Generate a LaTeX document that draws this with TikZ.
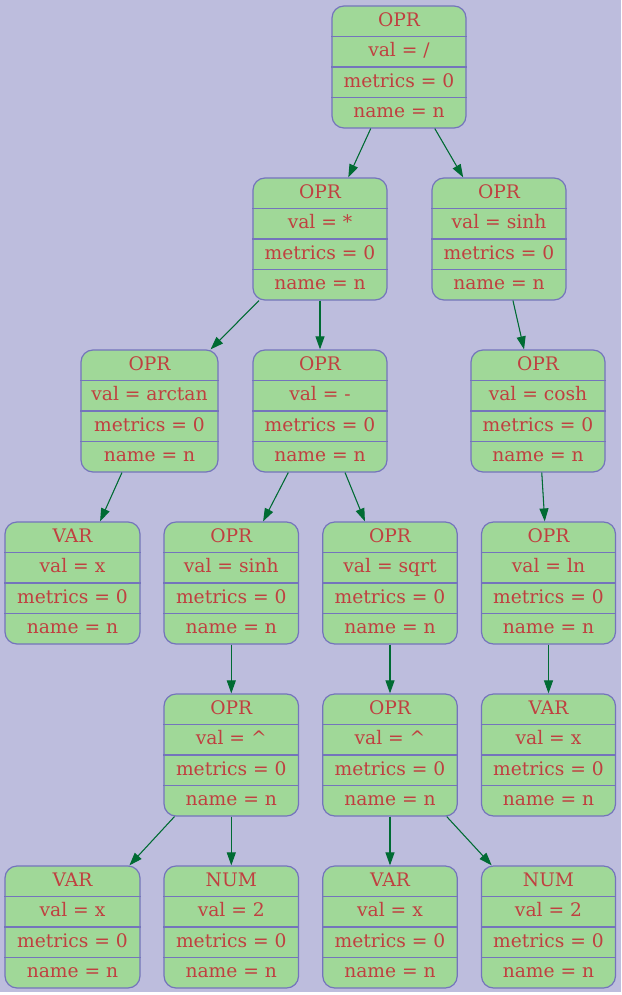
\documentclass[tikz,border=0pt]{standalone}
\usepackage{fontspec}
\setmainfont{DejaVu Serif}
\usetikzlibrary{arrows.meta}
\definecolor{bgc}{HTML}{BDBDDD}
\definecolor{fillc}{HTML}{A0D898}
\definecolor{linec}{HTML}{7474BC}
\definecolor{txtc}{HTML}{C04040}
\definecolor{edgec}{HTML}{006B33}
\tikzset{
  rec/.style={draw=linec, fill=fillc, line width=0.9pt, rounded corners=9pt,
    minimum height=91.5pt, inner sep=0pt, rectangle},
  divline/.style={draw=linec, line width=0.9pt},
  txt/.style={text=txtc, anchor=base, inner sep=0pt, font=\fontsize{14pt}{16pt}\selectfont},
  edge/.style={draw=edgec, line width=0.8pt, -{Triangle[length=9.75pt,width=6.75pt]}, fill=edgec}
}
\newcommand\recnode[8]{%
  \node[rec, minimum width=#4*0.75pt] (#1) at (#2,#3) {};
  \draw[divline] ([yshift=22.875pt]#1.west) -- ([yshift=22.875pt]#1.east);
  \draw[divline] (#1.west) -- (#1.east);
  \draw[divline] ([yshift=-22.875pt]#1.west) -- ([yshift=-22.875pt]#1.east);
  \node[txt] at ([yshift=30.56pt]#1.center) {#5};
  \node[txt] at ([yshift=7.69pt]#1.center) {#6};
  \node[txt] at ([yshift=-15.19pt]#1.center) {#7};
  \node[txt] at ([yshift=-38.06pt]#1.center) {#8};
}
\begin{document}
\begin{tikzpicture}[x=0.75pt,y=-0.75pt]
\useasboundingbox (0,0) rectangle (621,995);
\fill[white] (0,0) rectangle (621,995);
\fill[bgc] (0,0) rectangle (621,992);
\recnode{n0}{399}{67}{134}{OPR}{val = /}{metrics = 0}{name = n}
\recnode{n1}{320}{239}{134}{OPR}{val = *}{metrics = 0}{name = n}
\recnode{n2}{499}{239}{134}{OPR}{val = sinh}{metrics = 0}{name = n}
\recnode{n3}{149.5}{411}{137}{OPR}{val = arctan}{metrics = 0}{name = n}
\recnode{n4}{320}{411}{134}{OPR}{val = -}{metrics = 0}{name = n}
\recnode{n5}{538}{411}{134}{OPR}{val = cosh}{metrics = 0}{name = n}
\recnode{n6}{72.5}{583}{135}{VAR}{val = x}{metrics = 0}{name = n}
\recnode{n7}{231.3}{583}{134.5}{OPR}{val = sinh}{metrics = 0}{name = n}
\recnode{n8}{390}{583}{134.5}{OPR}{val = sqrt}{metrics = 0}{name = n}
\recnode{n9}{548.5}{583}{134}{OPR}{val = ln}{metrics = 0}{name = n}
\recnode{n10}{231.3}{755}{134.5}{OPR}{val = \^{}}{metrics = 0}{name = n}
\recnode{n11}{390}{755}{134.5}{OPR}{val = \^{}}{metrics = 0}{name = n}
\recnode{n12}{548.5}{755}{134}{VAR}{val = x}{metrics = 0}{name = n}
\recnode{n13}{72.5}{927}{135}{VAR}{val = x}{metrics = 0}{name = n}
\recnode{n14}{231.3}{927}{134.5}{NUM}{val = 2}{metrics = 0}{name = n}
\recnode{n15}{390}{927}{134.5}{VAR}{val = x}{metrics = 0}{name = n}
\recnode{n16}{548.5}{927}{134}{NUM}{val = 2}{metrics = 0}{name = n}
\draw[edge] (n0) -- (n1);
\draw[edge] (n0) -- (n2);
\draw[edge] (n1) -- (n3);
\draw[edge] (n1) -- (n4);
\draw[edge] (n2) -- (n5);
\draw[edge] (n3) -- (n6);
\draw[edge] (n4) -- (n7);
\draw[edge] (n4) -- (n8);
\draw[edge] (n5) -- (n9);
\draw[edge] (n7) -- (n10);
\draw[edge] (n8) -- (n11);
\draw[edge] (n9) -- (n12);
\draw[edge] (n10) -- (n13);
\draw[edge] (n10) -- (n14);
\draw[edge] (n11) -- (n15);
\draw[edge] (n11) -- (n16);
\end{tikzpicture}
\end{document}
